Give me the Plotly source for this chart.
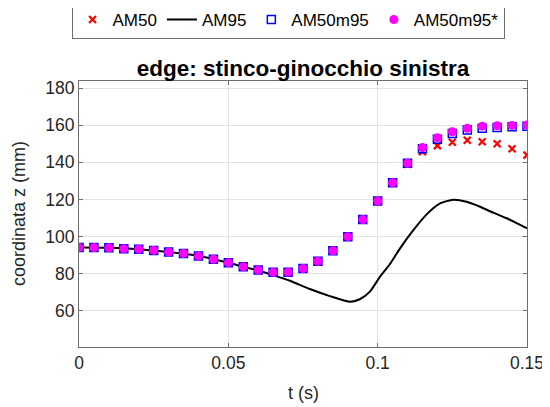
import plotly.graph_objects as go

# time samples (s) for marker series
t = [0.000, 0.005, 0.010, 0.015, 0.020, 0.025, 0.030, 0.035, 0.040, 0.045,
     0.050, 0.055, 0.060, 0.065, 0.070, 0.075, 0.080, 0.085, 0.090, 0.095,
     0.100, 0.105, 0.110, 0.115, 0.120, 0.125, 0.130, 0.135, 0.140, 0.145, 0.150]

am50 = [94.1, 94.1, 94.0, 93.5, 93.2, 92.6, 91.7, 91.0, 89.6, 87.8,
        86.0, 83.8, 82.0, 80.8, 80.9, 82.8, 86.7, 92.4, 100.0, 109.2,
        119.2, 129.0, 139.0, 145.7, 149.0, 150.8, 151.9, 151.1, 150.0, 147.3, 143.9]

am50m95 = [94.1, 94.1, 94.0, 93.5, 93.2, 92.6, 91.7, 91.0, 89.6, 87.8,
           86.0, 83.8, 82.0, 80.8, 80.9, 82.8, 86.7, 92.4, 100.0, 109.2,
           119.2, 129.0, 139.5, 147.3, 152.4, 155.6, 157.4, 158.3, 158.8, 159.2, 159.5]

am50m95s = [94.1, 94.1, 94.0, 93.5, 93.2, 92.6, 91.7, 91.0, 89.6, 87.8,
            86.0, 83.8, 82.0, 80.8, 80.9, 82.8, 86.7, 92.4, 100.0, 109.2,
            119.2, 129.0, 139.5, 148.0, 153.3, 156.5, 158.3, 159.5, 159.7, 159.9, 160.1]

# AM95 continuous curve
t_line = [0.000, 0.010, 0.020, 0.030, 0.040, 0.050, 0.055, 0.060, 0.065, 0.0706,
          0.0773, 0.084, 0.0907, 0.094, 0.0974, 0.1008, 0.104, 0.1075, 0.112, 0.1164,
          0.1209, 0.1253, 0.1298, 0.1343, 0.1387, 0.1432, 0.150]
am95 = [94.1, 94.0, 93.2, 91.7, 89.6, 86.0, 83.8, 81.8, 79.3, 76.3,
        71.8, 68.0, 65.0, 66.3, 70.4, 78.5, 85.0, 93.7, 103.6, 112.0,
        117.9, 119.9, 118.8, 116.1, 112.9, 109.9, 104.5]

x_ticks = [0, 0.05, 0.1, 0.15]
x_ticktext = ["0", "0.05", "0.1", "0.15"]
y_ticks = [60, 80, 100, 120, 140, 160, 180]

FONT = "Liberation Sans, Arial, sans-serif"
W, H = 550, 407
OFF = 8  # page body margin offset
L, R, T, B = 79 - OFF, W - 527 + OFF, 81 - OFF, H - 347 + OFF
PW, PH = W - L - R, H - T - B

fig = go.Figure()
fig.add_trace(go.Scatter(x=t, y=am50, mode="markers", name="AM50",
                         marker=dict(symbol="x-thin", size=7, color="red",
                                     line=dict(color="red", width=2.2))))
fig.add_trace(go.Scatter(x=t_line, y=am95, mode="lines", name="AM95",
                         line=dict(color="black", width=2, shape="spline", smoothing=0.6)))
fig.add_trace(go.Scatter(x=t, y=am50m95, mode="markers", name="AM50m95",
                         marker=dict(symbol="square-open", size=8, color="blue",
                                     line=dict(color="blue", width=1.5))))
fig.add_trace(go.Scatter(x=t, y=am50m95s, mode="markers", name="AM50m95*",
                         marker=dict(symbol="circle", size=9, color="magenta")))

axis_common = dict(showline=True, linecolor="#6e6e6e", linewidth=1, mirror="ticks",
                   ticks="inside", ticklen=4, tickcolor="#6e6e6e", automargin=False,
                   showgrid=True, gridcolor="#e3e3e3", gridwidth=1, zeroline=False,
                   tickfont=dict(family=FONT, size=17.5, color="#262626"))

fig.update_layout(
    width=W, height=H,
    margin=dict(l=L, r=R, t=T, b=B, autoexpand=False),
    paper_bgcolor="white", plot_bgcolor="white",
    font=dict(family=FONT, size=18, color="#262626"),
    title=dict(text="<b>edge: stinco-ginocchio sinistra</b>",
               font=dict(family=FONT, size=22.5, color="black"),
               x=(303 - OFF) / W, xanchor="center",
               y=1 - (68 - OFF) / H, yanchor="middle", yref="container"),
    xaxis=dict(range=[0, 0.15], tickvals=x_ticks, ticktext=x_ticktext, **axis_common),
    yaxis=dict(range=[40.6, 183.8], tickvals=y_ticks, **axis_common),
    legend=dict(orientation="h", x=(288 - OFF - L) / PW, xanchor="center", xref="paper",
                y=(H - B - (20 - OFF)) / PH, yanchor="middle", yref="paper",
                bordercolor="#6e6e6e", borderwidth=1, bgcolor="white",
                font=dict(family=FONT, size=17, color="black"),
                itemwidth=30, tracegroupgap=0),
    showlegend=True,
    annotations=[
        dict(text="t (s)", xref="paper", yref="paper",
             x=(303 - OFF - L) / PW, y=(H - B - (393 - OFF)) / PH,
             xanchor="center", yanchor="middle", showarrow=False,
             font=dict(family=FONT, size=18, color="#262626")),
        dict(text="coordinata z (mm)", xref="paper", yref="paper", textangle=-90,
             x=(19 - OFF - L) / PW, y=(H - B - (214 - OFF)) / PH,
             xanchor="center", yanchor="middle", showarrow=False,
             font=dict(family=FONT, size=18, color="#262626")),
    ],
)

fig.write_html("out.html")
